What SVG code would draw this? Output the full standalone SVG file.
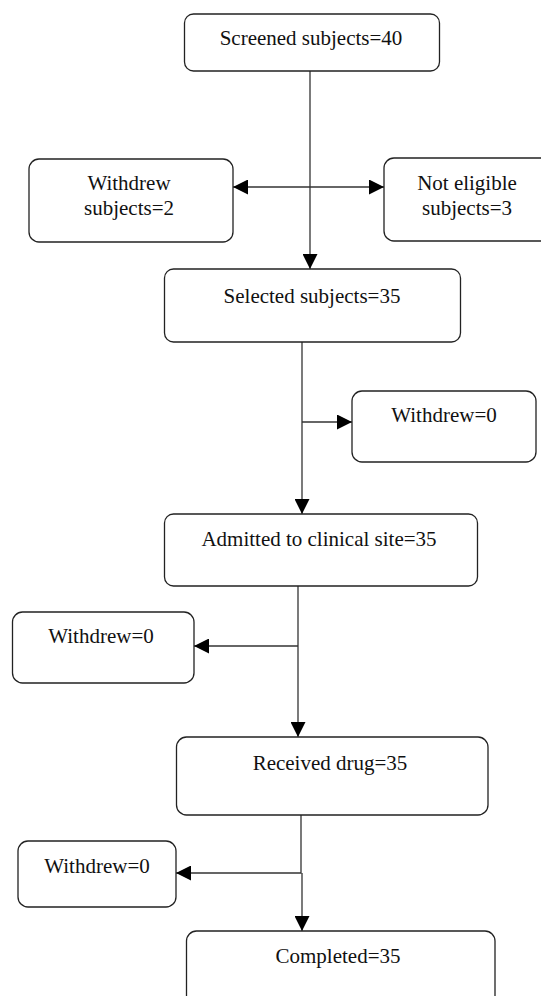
<svg xmlns="http://www.w3.org/2000/svg" width="541" height="996" viewBox="0 0 541 996">
<style>
.box{fill:#fff;stroke:#222;stroke-width:1.3}
.lbl{font-size:21px;fill:#111;text-anchor:middle}
.ln{fill:none;stroke:#333;stroke-width:1.3}
</style>
<defs>
<marker id="ah" markerUnits="userSpaceOnUse" markerWidth="15" markerHeight="15" refX="14" refY="7" orient="auto-start-reverse" viewBox="0 0 14 14">
<path d="M0,0 L14,7 L0,14 z" fill="#000"/>
</marker>
</defs>
<rect width="541" height="996" fill="#fff"/>
<g id="connectors">
<line class="ln" x1="310" y1="71" x2="310" y2="269" marker-end="url(#ah)"/>
<line class="ln" x1="233" y1="187" x2="384" y2="187" marker-start="url(#ah)" marker-end="url(#ah)"/>
<line class="ln" x1="302" y1="342" x2="302" y2="514" marker-end="url(#ah)"/>
<line class="ln" x1="302" y1="422" x2="352" y2="422" marker-end="url(#ah)"/>
<line class="ln" x1="298" y1="586" x2="298" y2="737" marker-end="url(#ah)"/>
<line class="ln" x1="298" y1="646" x2="194" y2="646" marker-end="url(#ah)"/>
<polyline class="ln" points="301,815 301,873 176,873" marker-end="url(#ah)"/>
<line class="ln" x1="302" y1="873" x2="302" y2="931" marker-end="url(#ah)"/>
</g>
<g font-family="Liberation Serif, Times New Roman, DejaVu Serif, serif">
<g id="screened">
<rect class="box" x="184.5" y="14" width="255" height="57" rx="9"/>
<text class="lbl" x="311" y="45">Screened subjects=40</text>
</g>
<g id="withdrew-subjects">
<rect class="box" x="29" y="159" width="204" height="83" rx="10"/>
<text class="lbl" x="129" y="190">Withdrew</text>
<text class="lbl" x="129" y="215">subjects=2</text>
</g>
<g id="not-eligible">
<rect class="box" x="384" y="158" width="175" height="83" rx="10"/>
<text class="lbl" x="467" y="190">Not eligible</text>
<text class="lbl" x="467" y="215">subjects=3</text>
</g>
<g id="selected">
<rect class="box" x="164.5" y="269" width="296" height="73" rx="9"/>
<text class="lbl" x="312" y="303">Selected subjects=35</text>
</g>
<g id="withdrew-1">
<rect class="box" x="352" y="391" width="184" height="71" rx="10"/>
<text class="lbl" x="444" y="422">Withdrew=0</text>
</g>
<g id="admitted">
<rect class="box" x="164.5" y="514" width="313" height="72" rx="9"/>
<text class="lbl" x="319" y="546">Admitted to clinical site=35</text>
</g>
<g id="withdrew-2">
<rect class="box" x="12.5" y="612" width="181.5" height="71" rx="10"/>
<text class="lbl" x="101" y="643">Withdrew=0</text>
</g>
<g id="received">
<rect class="box" x="176.5" y="737" width="311.5" height="78" rx="10"/>
<text class="lbl" x="330" y="770">Received drug=35</text>
</g>
<g id="withdrew-3">
<rect class="box" x="18" y="841" width="158" height="66" rx="10"/>
<text class="lbl" x="97" y="873">Withdrew=0</text>
</g>
<g id="completed">
<rect class="box" x="186.5" y="931" width="308.5" height="90" rx="10"/>
<text class="lbl" x="338" y="963">Completed=35</text>
</g>
</g>
</svg>
